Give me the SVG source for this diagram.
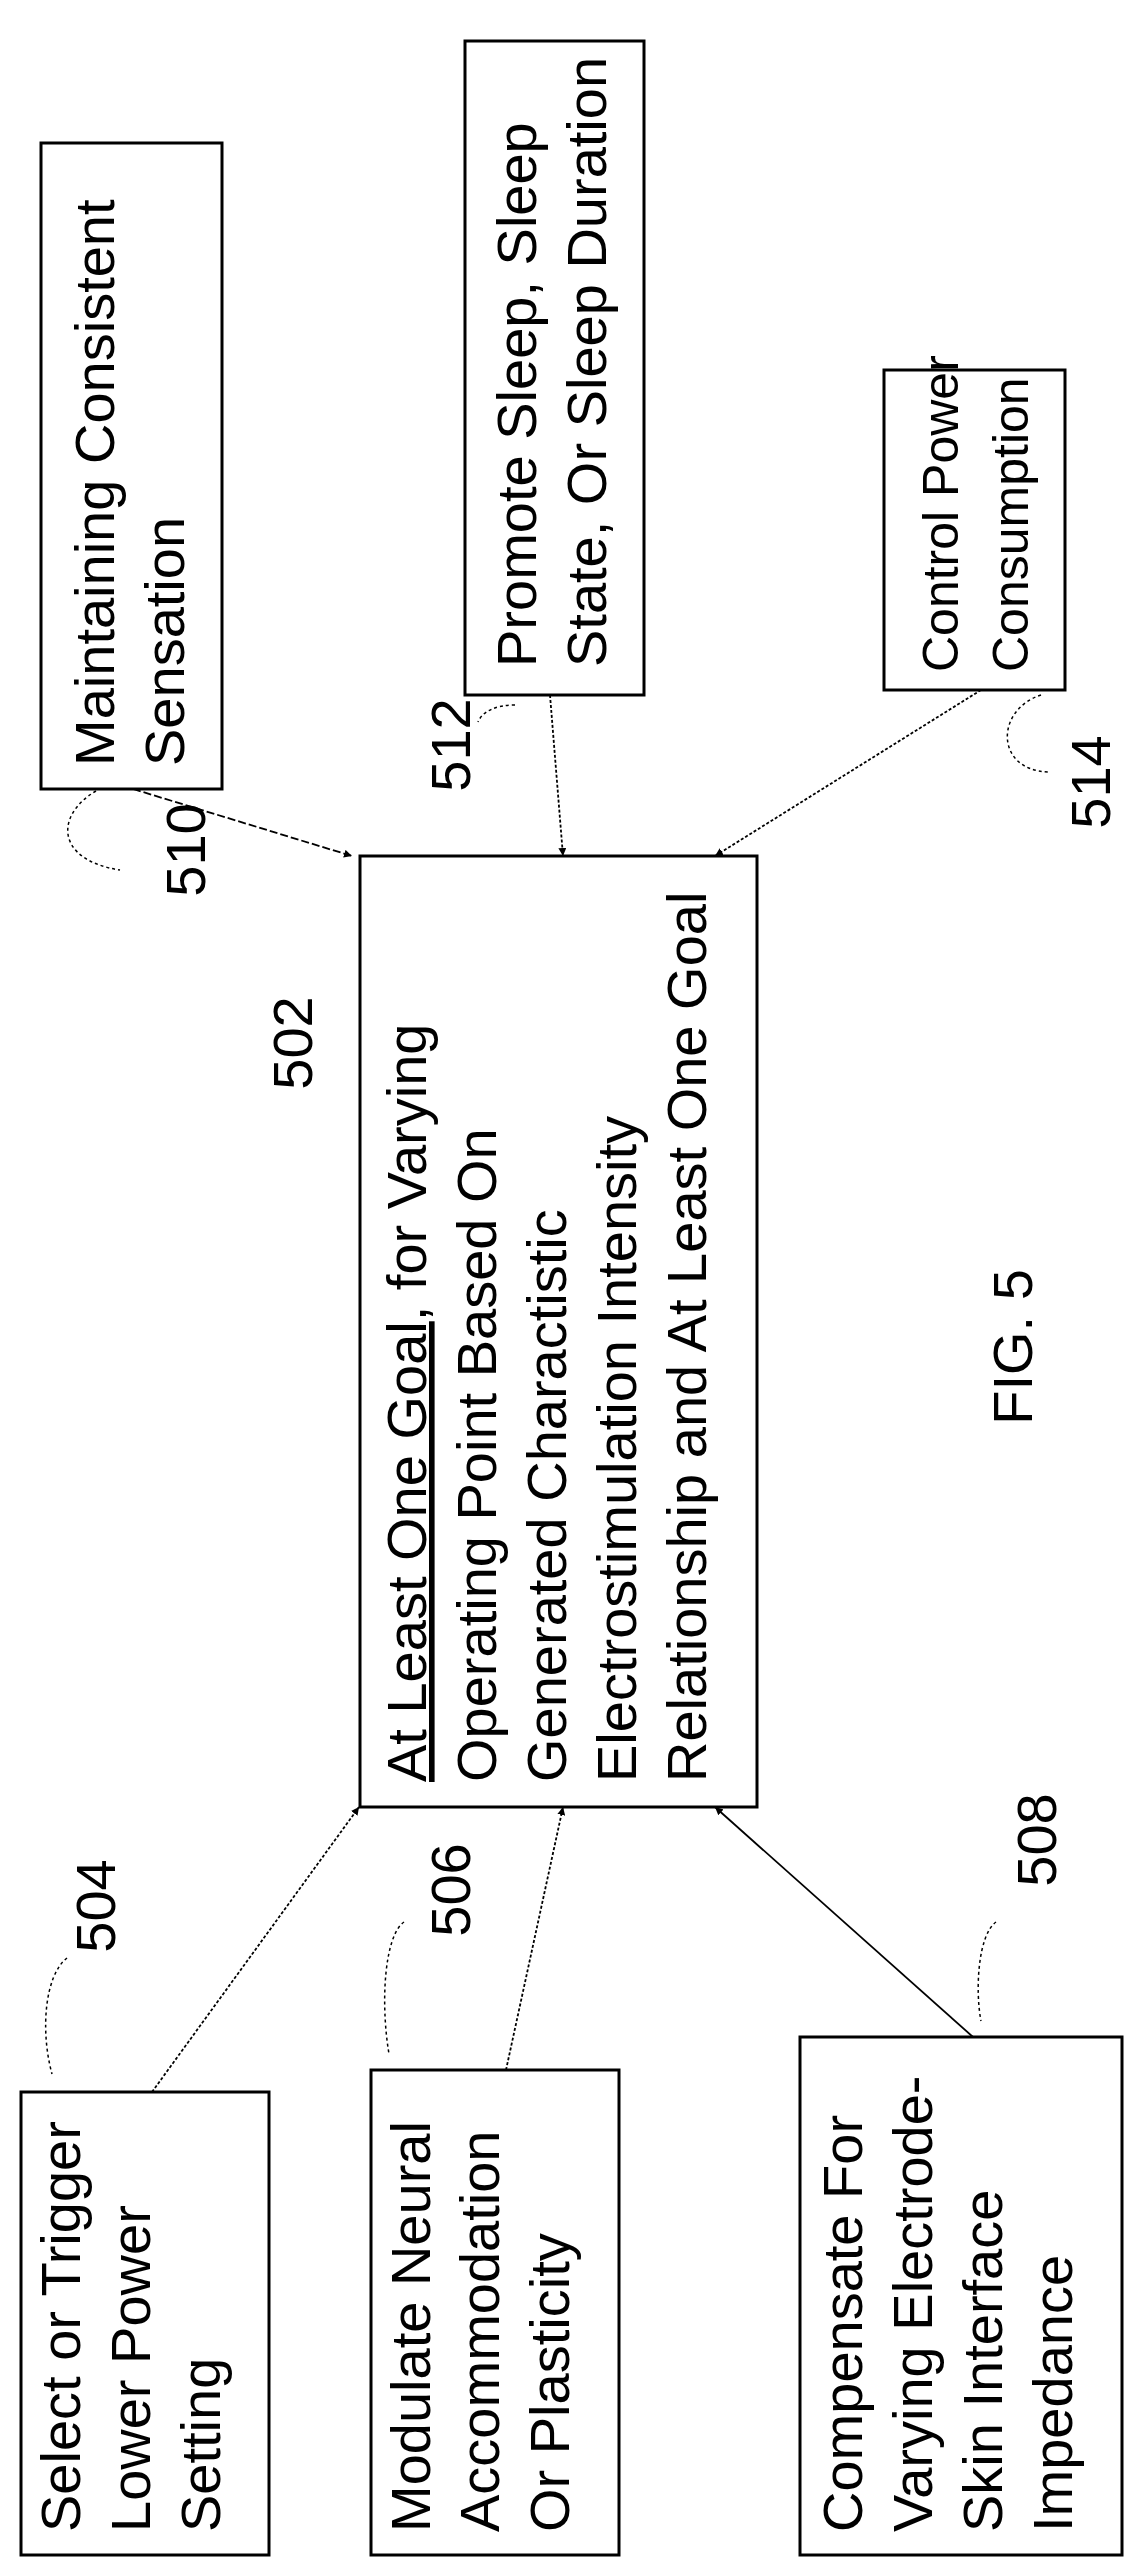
<svg xmlns="http://www.w3.org/2000/svg" width="1148" height="2576" viewBox="0 0 1148 2576">
<style>
.box{fill:#fff;stroke:#000;stroke-width:3}
text{font-family:"Liberation Sans",Arial,sans-serif;font-size:56px;fill:#000}
.s{font-size:50px}
.c{fill:none;stroke:#000;stroke-width:1.8;stroke-dasharray:3,2}
.l{fill:none;stroke:#000;stroke-width:1.5;stroke-dasharray:3,3}
</style>
<defs>
<marker id="a" viewBox="0 0 10 10" refX="10" refY="5" markerWidth="8" markerHeight="8" orient="auto" markerUnits="userSpaceOnUse">
<path d="M0,0 L10,5 L0,10 z" fill="#000"/>
</marker>
</defs>
<rect width="1148" height="2576" fill="#fff"/>
<g id="connectors">
<path class="c" style="stroke-dasharray:8,3" d="M133,789 L352,856" marker-end="url(#a)"/>
<path class="c" d="M550,695 L563,856" marker-end="url(#a)"/>
<path class="c" d="M981,690 L715,856" marker-end="url(#a)"/>
<path class="c" d="M152,2092 L359,1807" marker-end="url(#a)"/>
<path class="c" d="M506,2070 L563,1807" marker-end="url(#a)"/>
<path class="c" style="stroke-dasharray:none" d="M973,2037 L715,1807" marker-end="url(#a)"/>
<path class="l" d="M96,791 C55,815 55,860 120,870"/>
<path class="l" d="M515,705 C495,705 482,712 478,722"/>
<path class="l" d="M1041,695 C995,710 995,770 1048,772"/>
<path class="l" d="M67,1958 C45,1975 40,2030 52,2074"/>
<path class="l" d="M404,1922 C385,1935 380,2000 389,2054"/>
<path class="l" d="M996,1922 C978,1935 975,1990 981,2021"/>
</g>
<g id="n502">
<rect class="box" x="360" y="856" width="397" height="951"/>
<text transform="translate(426,1782) rotate(-90)"><tspan text-decoration="underline">At Least One Goal</tspan>, for Varying</text>
<text transform="translate(496,1782) rotate(-90)">Operating Point Based On</text>
<text transform="translate(566,1782) rotate(-90)">Generated Charactistic</text>
<text transform="translate(636,1782) rotate(-90)">Electrostimulation Intensity</text>
<text transform="translate(706,1782) rotate(-90)">Relationship and At Least One Goal</text>
<text transform="translate(312,1043) rotate(-90)" text-anchor="middle">502</text>
</g>
<g id="n510">
<rect class="box" x="41" y="143" width="181" height="646"/>
<text transform="translate(114,766) rotate(-90)">Maintaining Consistent</text>
<text transform="translate(184,766) rotate(-90)">Sensation</text>
<text transform="translate(205,850) rotate(-90)" text-anchor="middle">510</text>
</g>
<g id="n512">
<rect class="box" x="465" y="41" width="179" height="654"/>
<text transform="translate(536,667) rotate(-90)">Promote Sleep, Sleep</text>
<text transform="translate(606,667) rotate(-90)">State, Or Sleep Duration</text>
<text transform="translate(470,745) rotate(-90)" text-anchor="middle">512</text>
</g>
<g id="n514">
<rect class="box" x="884" y="370" width="181" height="320"/>
<text class="s" transform="translate(958,672) rotate(-90)">Control Power</text>
<text class="s" transform="translate(1028,672) rotate(-90)">Consumption</text>
<text transform="translate(1110,782) rotate(-90)" text-anchor="middle">514</text>
</g>
<g id="n504">
<rect class="box" x="21" y="2092" width="248" height="463"/>
<text transform="translate(80,2532) rotate(-90)">Select or Trigger</text>
<text transform="translate(150,2532) rotate(-90)">Lower Power</text>
<text transform="translate(220,2532) rotate(-90)">Setting</text>
<text transform="translate(115,1906) rotate(-90)" text-anchor="middle">504</text>
</g>
<g id="n506">
<rect class="box" x="371" y="2070" width="248" height="485"/>
<text transform="translate(430,2532) rotate(-90)">Modulate Neural</text>
<text transform="translate(499,2532) rotate(-90)">Accommodation</text>
<text transform="translate(569,2532) rotate(-90)">Or Plasticity</text>
<text transform="translate(470,1890) rotate(-90)" text-anchor="middle">506</text>
</g>
<g id="n508">
<rect class="box" x="800" y="2037" width="322" height="518"/>
<text transform="translate(862,2532) rotate(-90)">Compensate For</text>
<text transform="translate(932,2532) rotate(-90)">Varying Electrode-</text>
<text transform="translate(1002,2532) rotate(-90)">Skin Interface</text>
<text transform="translate(1072,2532) rotate(-90)">Impedance</text>
<text transform="translate(1056,1840) rotate(-90)" text-anchor="middle">508</text>
</g>
<text transform="translate(1032,1347) rotate(-90)" text-anchor="middle">FIG. 5</text>
</svg>
